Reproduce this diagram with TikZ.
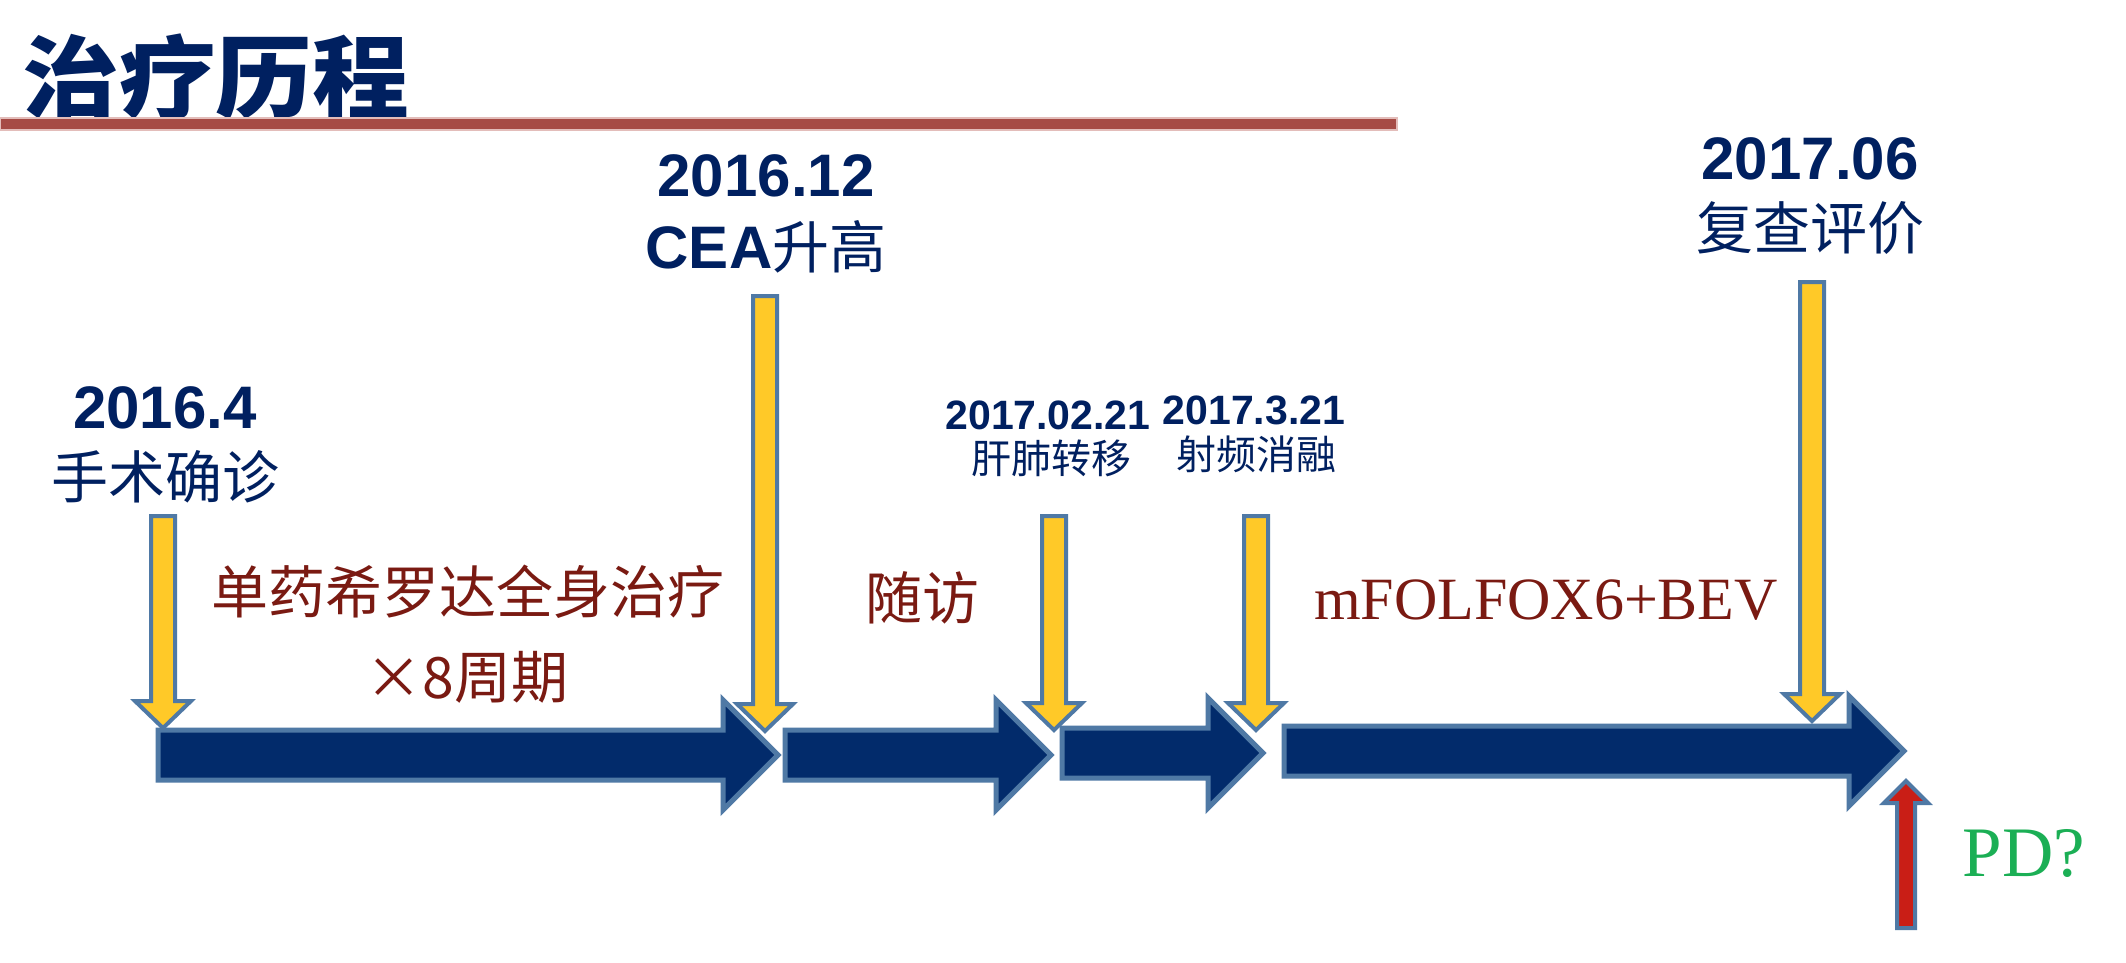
\documentclass[tikz,border=0pt]{standalone}
\usepackage{fontspec}
\setmainfont{Liberation Serif}
\setsansfont{Liberation Sans}
\newfontfamily\cjk{Noto Sans CJK SC}
\definecolor{navy}{HTML}{002060}
\definecolor{arrowblue}{HTML}{022B6B}
\definecolor{edgeblue}{HTML}{4F79A5}
\definecolor{gold}{HTML}{FFC928}
\definecolor{brownred}{HTML}{7A1A12}
\definecolor{pdgreen}{HTML}{1BAF55}
\definecolor{redar}{HTML}{C91E16}
\definecolor{rulered}{HTML}{A64B45}
\definecolor{rulelight}{HTML}{E3BDBA}
\newcommand\fsz[1]{\fontsize{#1}{#1}\selectfont}
\newcommand\harrow[3]{%
  \draw[bluearrow] (#1,{#3-25}) -- ({#2-55},{#3-25}) -- ({#2-55},{#3-55}) -- (#2,#3)
    -- ({#2-55},{#3+55}) -- ({#2-55},{#3+25}) -- (#1,{#3+25}) -- cycle;}
\newcommand\varrow[3]{%
  \draw[goldarrow] ({#1-12},#2) -- ({#1+12},#2) -- ({#1+12},{#3-27}) -- ({#1+28},{#3-27})
    -- (#1,#3) -- ({#1-28},{#3-27}) -- ({#1-12},{#3-27}) -- cycle;}
\begin{document}
\begin{tikzpicture}[x=1pt,y=-1pt,
  bluearrow/.style={fill=arrowblue,draw=edgeblue,line width=5pt,line join=miter},
  goldarrow/.style={fill=gold,draw=edgeblue,line width=4pt,line join=miter},
  redarrow/.style={fill=redar,draw=edgeblue,line width=4pt,line join=miter},
  datebig/.style={inner sep=0pt,text=navy,font=\sffamily\bfseries\fsz{60}},
  datesmall/.style={inner sep=0pt,text=navy,font=\sffamily\bfseries\fsz{41}},
  cjkbig/.style={inner sep=0pt,text=navy,font=\cjk\fsz{57}},
  cjksmall/.style={inner sep=0pt,text=navy,font=\cjk\fsz{40}},
  phase/.style={inner sep=0pt,text=brownred,font=\cjk\fsz{57}},
]
\useasboundingbox (0,0) rectangle (2126,962);
\fill[white] (0,0) rectangle (2126,962);
% title and rule
\node[anchor=base west,inner sep=0pt,text=navy,font=\cjk\bfseries\fsz{95}] (title) at (22,111) {\scalebox{1.02}[0.95]{治疗历程}};
\draw[rulelight,line width=1.5pt,fill=rulered] (0,118) rectangle (1397,130);
% blue timeline arrows
\harrow{158}{778}{755}
\harrow{785}{1051}{755}
\harrow{1062}{1263}{753}
\harrow{1284}{1904}{751}
% gold marker arrows
\varrow{163}{516}{728}
\varrow{765}{296}{731}
\varrow{1054}{516}{730}
\varrow{1256}{516}{730}
\varrow{1812}{282}{721}
% red up arrow
\draw[redarrow] (1897,928) -- (1915,928) -- (1915,803) -- (1928,803) -- (1906,781)
  -- (1884,803) -- (1897,803) -- cycle;
% labels
\node[datebig] (d1) at (165,408) {2016.4};
\node[cjkbig] (e1) at (165,477) {手术确诊};
\node[datebig] (d2) at (766,176) {2016.12};
\node[inner sep=0pt,text=navy] (e2) at (766,247) {{\sffamily\bfseries\fsz{60}CEA}{\cjk\fsz{57}升高}};
\node[datesmall] (d3) at (1048,415) {2017.02.21};
\node[cjksmall] (e3) at (1051,458) {肝肺转移};
\node[datesmall] (d4) at (1254,410) {2017.3.21};
\node[cjksmall] (e4) at (1256,454) {射频消融};
\node[datebig] (d5) at (1810,159) {2017.06};
\node[cjkbig] (e5) at (1810,228) {复查评价};
% phase labels
\node[phase] (p1) at (468,592) {单药希罗达全身治疗};
\node[phase] (p1b) at (467,677) {×8周期};
\node[phase] (p2) at (922,598) {随访};
\node[inner sep=0pt,text=brownred,font=\rmfamily\fsz{60}] (p3) at (1546,600) {mFOLFOX6+BEV};
\node[inner sep=0pt,text=pdgreen,font=\rmfamily\fsz{71}] (pd) at (2024,853) {PD?};
\end{tikzpicture}
\end{document}
